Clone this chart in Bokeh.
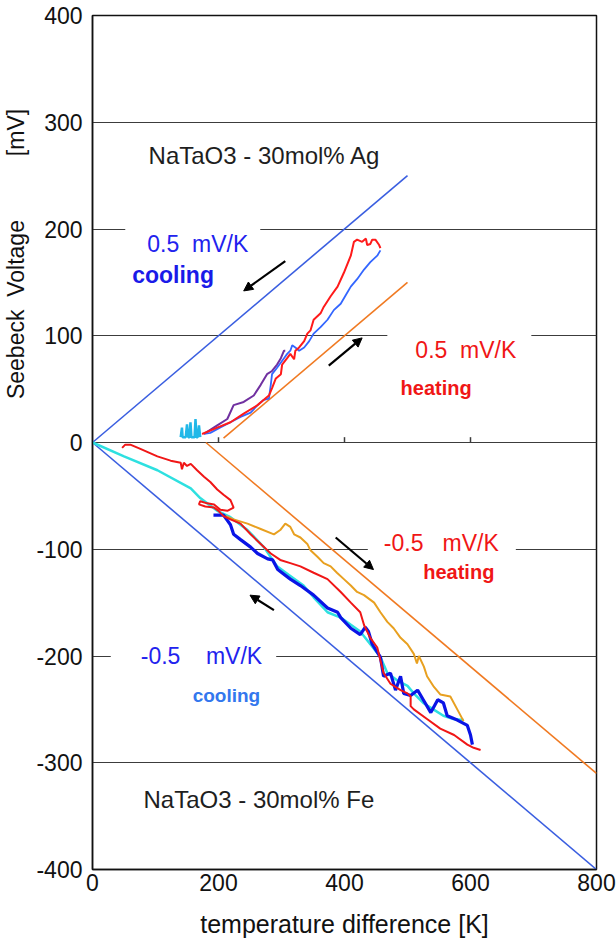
from bokeh.plotting import figure
from bokeh.models import Range1d, FixedTicker, Label, Arrow, NormalHead
from bokeh.embed import file_html
from bokeh.resources import INLINE

# ---------------- axes ----------------
x_ticks = [0, 200, 400, 600, 800]
y_ticks = [-400, -300, -200, -100, 0, 100, 200, 300, 400]
zero_line_ticks = [200, 400, 600]

# ---------------- reference slopes (0.5 mV/K) ----------------
ag_cool_ref_x = [0, 500]
ag_cool_ref_y = [0, 250]
ag_heat_ref_x = [208, 500]
ag_heat_ref_y = [4, 150]
fe_cool_ref_x = [0, 800]
fe_cool_ref_y = [0, -400]
fe_heat_ref_x = [180, 800]
fe_heat_ref_y = [0, -310]

# ---------------- NaTaO3 - 30mol% Ag ----------------
ag_red_x = [174, 198, 219, 240, 262, 272, 280, 285, 291, 299, 301, 309, 314, 320, 322, 328,
            336, 341, 346, 351, 362, 367, 378, 389, 399, 410, 415, 420, 428, 434, 436, 441,
            444, 449, 455, 457]
ag_red_y = [8, 14, 19, 27, 35, 40, 44, 51, 60, 64, 73, 79, 83, 78, 86, 89,
            95, 102, 105, 115, 121, 127, 137, 146, 159, 175, 188, 190, 188, 191, 185, 186,
            190, 190, 185, 182]

ag_blue_x = [457, 452, 441, 431, 420, 410, 404, 394, 383, 373, 362, 351, 344, 336, 328, 322,
             317, 314, 309, 304, 293, 285, 283, 280, 272, 262, 251, 235, 219, 203, 187, 177]
ag_blue_y = [180, 175, 169, 162, 153, 146, 140, 130, 124, 115, 108, 102, 95, 89, 86, 89,
             91, 86, 83, 79, 70, 64, 54, 41, 40, 35, 28, 24, 19, 14, 9, 8]

ag_purple_x = [177, 198, 214, 224, 240, 256, 267, 277, 285, 293, 299, 304, 306]
ag_purple_y = [8, 16, 22, 35, 38, 44, 54, 64, 67, 73, 79, 86, 86]

ag_cyan_x = [140, 142, 143, 145, 148, 150, 152, 154, 155.5, 157, 160, 162, 163.5, 165, 167, 169, 171]
ag_cyan_y = [5, 14, 5, 5, 5, 17, 5, 5, 19, 5, 5, 5, 22, 5, 5, 16, 5]

# ---------------- NaTaO3 - 30mol% Fe ----------------
fe_cyan_x = [0, 50, 103, 156, 171, 198, 219, 246, 272, 293, 314, 335, 351, 373, 394, 425,
             441, 457, 468, 484, 500, 510, 525, 541, 557, 573, 589]
fe_cyan_y = [0, -13, -26, -43, -52, -64, -70, -82, -98, -116, -125, -134, -145, -159, -164, -177,
             -189, -201, -216, -223, -228, -235, -244, -250, -256, -259, -260]

fe_gold_x = [208, 224, 246, 267, 288, 298, 306, 314, 320, 330, 341, 346, 357, 367, 378, 388,
             399, 410, 420, 431, 447, 457, 468, 478, 489, 500, 510, 515, 518, 526, 531, 542,
             552, 568, 579, 589]
fe_gold_y = [-68, -72, -76, -81, -86, -82, -76, -79, -86, -89, -95, -101, -107, -113, -116, -122,
             -128, -134, -140, -143, -150, -159, -168, -174, -183, -189, -198, -207, -200, -210, -219, -229,
             -236, -238, -250, -261]

fe_blue_x = [192, 208, 219, 224, 235, 251, 262, 278, 286, 294, 314, 330, 351, 373, 389, 394,
             410, 425, 433, 438, 444, 457, 462, 473, 481, 489, 494, 505, 516, 525, 537, 548,
             557, 563, 579, 595, 600, 603]
fe_blue_y = [-68, -68, -77, -86, -91, -98, -104, -109, -110, -119, -128, -134, -143, -155, -159, -164,
             -174, -180, -173, -177, -189, -201, -219, -216, -232, -219, -235, -237, -232, -241, -253, -241,
             -244, -256, -260, -265, -274, -283]

fe_red_x = [47, 52, 60, 76, 103, 124, 140, 142, 145, 150, 156, 166, 177, 187, 198, 208,
            219, 224, 214, 203, 193, 182, 171, 169, 179, 193, 200, 208, 219, 235, 251, 267,
            283, 298, 314, 330, 351, 373, 394, 410, 425, 431, 441, 452, 457, 462, 473, 489,
            500, 505, 505, 510, 531, 552, 574, 595, 605, 616]
fe_red_y = [-5, -2, -2, -6, -13, -17, -19, -25, -19, -22, -20, -26, -32, -37, -44, -49,
            -54, -61, -64, -63, -58, -57, -55, -58, -60, -61, -64, -69, -72, -76, -86, -95,
            -104, -110, -113, -116, -122, -128, -140, -150, -159, -171, -183, -192, -204, -216, -226, -232,
            -235, -238, -247, -250, -259, -268, -274, -283, -286, -288]

# ---------------- direction arrows (start x, start y, end x, end y) ----------------
arrows = [
    (306, 170, 240, 142),
    (375, 72, 428, 98),
    (386, -89, 446, -119),
    (288, -157, 250, -143),
]

FONT = "Liberation Sans"

p = figure(width=616, height=940, output_backend="svg", toolbar_location=None,
           x_range=Range1d(0, 800), y_range=Range1d(-400, 400),
           min_border_left=92, min_border_right=20, min_border_top=15, min_border_bottom=69)
p.background_fill_color = "white"
p.border_fill_color = "white"
p.outline_line_color = "#111111"
p.outline_line_width = 1.5

p.xaxis.ticker = FixedTicker(ticks=x_ticks)
p.yaxis.ticker = FixedTicker(ticks=y_ticks)
p.yaxis.major_label_overrides = {t: str(t) for t in y_ticks}
p.xgrid.grid_line_color = None
p.ygrid.grid_line_color = "#3c3c3c"
p.ygrid.grid_line_width = 1.2

for ax in (p.xaxis[0], p.yaxis[0]):
    ax.major_tick_in = 0
    ax.major_tick_out = 0
    ax.minor_tick_in = 0
    ax.minor_tick_out = 0
    ax.axis_line_color = "#111111"
    ax.axis_line_width = 1.5
    ax.major_label_text_font = FONT
    ax.major_label_text_font_size = "23px"
    ax.major_label_text_color = "#111111"
    ax.axis_label_text_font = FONT
    ax.axis_label_text_font_style = "normal"
    ax.axis_label_text_color = "#111111"

p.xaxis.major_label_standoff = 4
p.xaxis.axis_label = "temperature difference [K]"
p.xaxis.axis_label_text_font_size = "25px"
p.xaxis.axis_label_standoff = 16
p.yaxis.major_label_standoff = 10
p.yaxis.axis_label = "\u00a0" * 59 + "Seebeck\u00a0\u00a0Voltage" + "\u00a0" * 10 + "[mV]"
p.yaxis.axis_label_text_font_size = "23px"
p.yaxis.axis_label_standoff = 4

# small tick marks on the zero line
p.segment(x0=zero_line_ticks, y0=[0] * len(zero_line_ticks), x1=zero_line_ticks,
          y1=[5] * len(zero_line_ticks), line_color="#3c3c3c", line_width=1.5)

# reference lines
p.line(ag_cool_ref_x, ag_cool_ref_y, line_color="#3a5ee0", line_width=1.6)
p.line(ag_heat_ref_x, ag_heat_ref_y, line_color="#f07a22", line_width=1.6)
p.line(fe_cool_ref_x, fe_cool_ref_y, line_color="#3a5ee0", line_width=1.6)
p.line(fe_heat_ref_x, fe_heat_ref_y, line_color="#f07a22", line_width=1.6)

# Ag curves
p.line(ag_cyan_x, ag_cyan_y, line_color="#22b8e8", line_width=2.5)
p.line(ag_purple_x, ag_purple_y, line_color="#7030a0", line_width=2)
p.line(ag_blue_x, ag_blue_y, line_color="#3366ff", line_width=1.8)
p.line(ag_red_x, ag_red_y, line_color="#ff1a1a", line_width=2)

# Fe curves
p.line(fe_cyan_x, fe_cyan_y, line_color="#2ee0e0", line_width=2.5)
p.line(fe_gold_x, fe_gold_y, line_color="#e8a020", line_width=2)
p.line(fe_blue_x, fe_blue_y, line_color="#0a14e6", line_width=3.2)
p.line(fe_red_x, fe_red_y, line_color="#f01616", line_width=2)

for (xs, ys, xe, ye) in arrows:
    p.add_layout(Arrow(x_start=xs, y_start=ys, x_end=xe, y_end=ye,
                       line_color="black", line_width=2.2,
                       end=NormalHead(size=9, fill_color="black", line_color="black")))

def lab(x, y, text, color, size, style="normal", bg=None, pad=None):
    kw = dict(x=x, y=y, text=text, text_color=color, text_font=FONT,
              text_font_size=size, text_font_style=style,
              text_align="left", text_baseline="middle")
    if bg:
        kw["background_fill_color"] = bg
        kw["padding"] = pad
    p.add_layout(Label(**kw))

NB = "\u00a0"
lab(89, 269, "NaTaO3 - 30mol% Ag", "#1e1e1e", "24px")
lab(52, 187, "0.5" + NB * 2 + "mV/K", "#2222ee", "23px", bg="white",
    pad=dict(left=22, right=12, top=4, bottom=2))
lab(63, 157, "cooling", "#1a1ae8", "23px", "bold")
lab(468, 88, "0.5" + NB * 2 + "mV/K", "#f01616", "23px", bg="white",
    pad=dict(left=28, right=15, top=4, bottom=2))
lab(489, 51, "heating", "#f01616", "20px", "bold")
lab(437, -95, "-0.5" + NB * 3 + "mV/K", "#f01616", "23px", bg="white",
    pad=dict(left=16, right=17, top=2, bottom=4))
lab(525, -121, "heating", "#f01616", "20px", "bold")
lab(29, -200, "-0.5" + NB * 4 + "mV/K", "#2222ee", "23px", bg="white",
    pad=dict(left=30, right=14, top=3, bottom=3))
lab(159, -237, "cooling", "#3377ee", "19px", "bold")
lab(81, -334, "NaTaO3 - 30mol% Fe", "#1e1e1e", "24px")

open("out.html", "w").write(file_html(p, INLINE))
